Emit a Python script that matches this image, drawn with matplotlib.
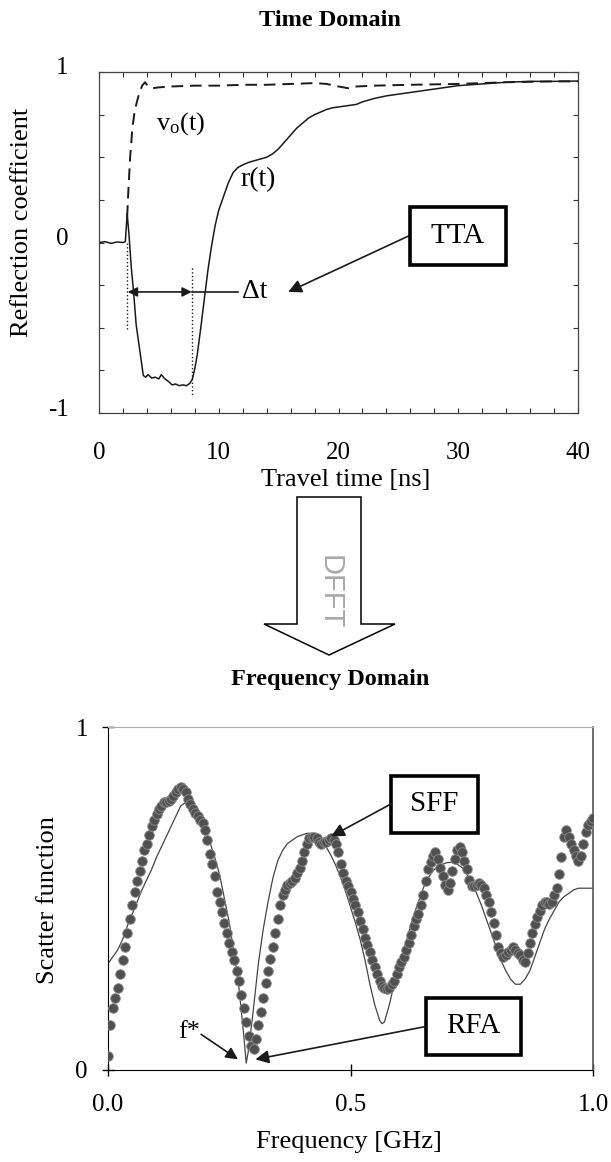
import numpy as np
import matplotlib
matplotlib.use("Agg")
import matplotlib.pyplot as plt
from matplotlib.patches import Rectangle, Polygon
from matplotlib.ticker import MultipleLocator
from matplotlib.transforms import ScaledTranslation

plt.rcParams['font.family'] = ['Liberation Serif', 'DejaVu Serif']
plt.rcParams['mathtext.fontset'] = 'custom'
plt.rcParams['mathtext.rm'] = 'Liberation Serif'
plt.rcParams['axes.unicode_minus'] = False

# time domain: reflected waveform r(t) and incident step v_o(t)
t_r = [0.0, 0.5, 1.0, 1.5, 2.0, 2.2, 2.35, 2.5, 2.7, 2.9, 3.1, 3.3, 3.5, 3.7, 3.9,
       4.1, 4.4, 4.7, 5.0, 5.2, 5.5, 5.8, 6.1, 6.4, 6.7, 7.0, 7.3, 7.6, 7.8, 8.0,
       8.2, 8.5, 8.8, 9.1, 9.4, 9.7, 10.0, 10.4, 10.8, 11.2, 11.6, 12.0, 12.5, 13.0,
       13.5, 14.0, 14.5, 15.0, 15.5, 16.0, 16.5, 17.0, 17.5, 18.0, 18.5, 19.0, 19.5,
       20.0, 20.5, 21.0, 21.5, 22.0, 23.0, 24.0, 25.0, 26.0, 27.0, 28.0, 29.0, 30.0,
       32.0, 34.0, 36.0, 38.0, 40.0]
r_vals = [0.0, 0.005, -0.005, 0.003, 0.0, 0.005, 0.17, 0.05, -0.15, -0.30, -0.48, -0.58,
          -0.68, -0.78, -0.79, -0.775, -0.795, -0.79, -0.80, -0.775, -0.80, -0.815, -0.835,
          -0.83, -0.84, -0.835, -0.84, -0.825, -0.80, -0.74, -0.66, -0.50, -0.33, -0.16,
          -0.02, 0.10, 0.19, 0.27, 0.35, 0.41, 0.44, 0.455, 0.47, 0.48, 0.49, 0.50, 0.52,
          0.55, 0.59, 0.63, 0.67, 0.70, 0.73, 0.75, 0.765, 0.78, 0.79, 0.795, 0.80, 0.805,
          0.81, 0.825, 0.845, 0.86, 0.87, 0.88, 0.89, 0.90, 0.91, 0.92, 0.93, 0.94, 0.945,
          0.945, 0.947]

t_v = [2.35, 2.45, 2.6, 2.8, 3.0, 3.3, 3.6, 3.85, 4.1, 4.5, 5.0, 6.0, 8.0, 10.0, 12.0,
       14.0, 16.0, 18.0, 19.0, 20.0, 20.8, 21.5, 23.0, 26.0, 30.0, 34.0, 38.0, 40.0]
v_vals = [0.15, 0.3, 0.5, 0.68, 0.78, 0.86, 0.92, 0.94, 0.915, 0.905, 0.91, 0.915, 0.92,
          0.92, 0.925, 0.925, 0.93, 0.935, 0.93, 0.915, 0.905, 0.915, 0.92, 0.925, 0.93,
          0.94, 0.945, 0.945]

# frequency domain: measured scatter function (dots) and fitted model (line)
freq = np.arange(201) * 0.005
scatter_s = [
    0.04, 0.13, 0.18, 0.21, 0.24, 0.28, 0.32, 0.36, 0.40, 0.44,
    0.48, 0.52, 0.55, 0.58, 0.61, 0.64, 0.66, 0.685, 0.71, 0.73,
    0.745, 0.76, 0.77, 0.78, 0.78, 0.785, 0.79, 0.80, 0.81, 0.82,
    0.825, 0.82, 0.81, 0.79, 0.775, 0.76, 0.75, 0.74, 0.73, 0.72,
    0.70, 0.67, 0.63, 0.60, 0.565, 0.52, 0.49, 0.46, 0.43, 0.40,
    0.37, 0.345, 0.32, 0.29, 0.26, 0.22, 0.18, 0.14, 0.10, 0.07,
    0.06, 0.09, 0.13, 0.17, 0.21, 0.255, 0.29, 0.325, 0.36, 0.40,
    0.44, 0.48, 0.51, 0.525, 0.54, 0.545, 0.55, 0.56, 0.575, 0.59,
    0.61, 0.635, 0.66, 0.675, 0.68, 0.68, 0.675, 0.665, 0.66, 0.665,
    0.665, 0.67, 0.675, 0.67, 0.66, 0.635, 0.60, 0.575, 0.55, 0.535,
    0.52, 0.50, 0.48, 0.46, 0.435, 0.41, 0.385, 0.365, 0.345, 0.32,
    0.30, 0.28, 0.26, 0.245, 0.24, 0.235, 0.24, 0.25, 0.26, 0.28,
    0.30, 0.315, 0.33, 0.35, 0.37, 0.395, 0.42, 0.44, 0.455, 0.48,
    0.51, 0.55, 0.585, 0.605, 0.625, 0.635, 0.615, 0.59, 0.565, 0.54,
    0.525, 0.545, 0.58, 0.615, 0.64, 0.65, 0.635, 0.61, 0.585, 0.555,
    0.535, 0.535, 0.54, 0.545, 0.54, 0.53, 0.51, 0.49, 0.46, 0.43,
    0.395, 0.36, 0.34, 0.33, 0.335, 0.345, 0.35, 0.36, 0.35, 0.34,
    0.335, 0.32, 0.315, 0.34, 0.37, 0.40, 0.425, 0.445, 0.465, 0.48,
    0.49, 0.49, 0.485, 0.49, 0.51, 0.53, 0.57, 0.62, 0.68, 0.70,
    0.68, 0.66, 0.64, 0.625, 0.61, 0.625, 0.66, 0.695, 0.715, 0.725,
    0.735]

model_f = [0.00, 0.01, 0.02, 0.03, 0.04, 0.05, 0.06, 0.07, 0.08, 0.09, 0.10, 0.11, 0.12,
           0.13, 0.14, 0.15, 0.16, 0.17, 0.18, 0.19, 0.20, 0.21, 0.22, 0.23, 0.24, 0.25,
           0.26, 0.27, 0.28, 0.285, 0.29, 0.30, 0.31, 0.32, 0.33, 0.34, 0.35, 0.36, 0.37,
           0.38, 0.39, 0.40, 0.41, 0.42, 0.43, 0.44, 0.45, 0.46, 0.47, 0.48, 0.49, 0.50,
           0.51, 0.52, 0.53, 0.54, 0.55, 0.56, 0.565, 0.57, 0.58, 0.59, 0.60, 0.61, 0.62,
           0.63, 0.64, 0.65, 0.66, 0.67, 0.68, 0.69, 0.70, 0.71, 0.72, 0.73, 0.74, 0.75,
           0.76, 0.77, 0.78, 0.79, 0.80, 0.81, 0.82, 0.83, 0.84, 0.85, 0.86, 0.87, 0.88,
           0.89, 0.90, 0.91, 0.92, 0.93, 0.94, 0.95, 0.96, 0.97, 0.98, 0.99, 1.00]
model_s = [0.31, 0.33, 0.35, 0.38, 0.42, 0.455, 0.49, 0.525, 0.555, 0.585, 0.62, 0.65, 0.68,
           0.71, 0.74, 0.77, 0.78, 0.775, 0.76, 0.735, 0.705, 0.665, 0.62, 0.57, 0.50, 0.43,
           0.34, 0.24, 0.10, 0.02, 0.06, 0.18, 0.31, 0.41, 0.49, 0.56, 0.61, 0.64, 0.66,
           0.67, 0.68, 0.685, 0.69, 0.69, 0.685, 0.67, 0.65, 0.625, 0.595, 0.56, 0.52, 0.475,
           0.43, 0.38, 0.32, 0.25, 0.19, 0.145, 0.135, 0.14, 0.19, 0.25, 0.30, 0.35, 0.40,
           0.45, 0.49, 0.53, 0.56, 0.58, 0.595, 0.60, 0.605, 0.605, 0.60, 0.59, 0.57, 0.545,
           0.515, 0.48, 0.44, 0.40, 0.36, 0.32, 0.29, 0.265, 0.25, 0.25, 0.265, 0.29, 0.33,
           0.37, 0.41, 0.44, 0.465, 0.49, 0.505, 0.515, 0.525, 0.53, 0.53, 0.53, 0.53]

W, H = 611, 1162
fig = plt.figure(figsize=(W / 100, H / 100), dpi=100)


def fx(px):
    return px / W


def fy(py):
    return 1 - py / H


ink = '#1a1a1a'

# ---- time domain ----
ax1 = fig.add_axes([fx(99), fy(413), fx(578) - fx(99), fy(72) - fy(413)])
ax1.plot(t_r, r_vals, color=ink, lw=1.1)
ax1.plot(t_v, v_vals, color=ink, lw=1.4, dashes=(6, 3.5))
ax1.set_xlim(0, 40)
ax1.set_ylim(-1, 1)
ax1.xaxis.set_major_locator(MultipleLocator(10))
ax1.xaxis.set_minor_locator(MultipleLocator(2))
ax1.set_yticks([-1, 0, 1])
ax1.yaxis.set_minor_locator(MultipleLocator(0.25))
ax1.tick_params(which='both', direction='in', top=True, right=True, length=3.5,
                width=0.8, color='#333333', labelsize=18)
ax1.tick_params(axis='x', pad=21)
ax1.tick_params(axis='y', pad=22)
for sp in ax1.spines.values():
    sp.set_color('#444444')
    sp.set_linewidth(0.9)
for tk in ax1.yaxis.get_major_ticks():
    tk.label1.set_transform(tk.label1.get_transform() +
                            ScaledTranslation(0, 0.06, fig.dpi_scale_trans))

# delta-t marker
ax1.plot([2.3, 2.3], [0.0, -0.52], ls=':', color=ink, lw=1.0)
ax1.plot([7.75, 7.75], [-0.15, -0.905], ls=':', color=ink, lw=1.0)
ax1.annotate('', xy=(2.4, -0.29), xytext=(7.75, -0.29),
             arrowprops=dict(arrowstyle='<|-|>', color=ink, lw=1.2,
                             mutation_scale=14, shrinkA=0, shrinkB=0))
ax1.plot([7.75, 11.6], [-0.29, -0.29], color=ink, lw=1.2)
ax1.text(13.0, -0.29, 'Δt', fontsize=20, ha='center', va='center')
ax1.text(13.3, 0.37, 'r(t)', fontsize=20, ha='center', va='center')
ax1.text(6.8, 0.70, r'$\mathrm{v_o(t)}$', fontsize=19, ha='center', va='center')

ax1.add_patch(Rectangle((26.0, -0.133), 7.95, 0.342, facecolor='white',
                        edgecolor='black', lw=2.6, zorder=4))
ax1.text(29.97, 0.04, 'TTA', fontsize=21, ha='center', va='center', zorder=5)
ax1.annotate('', xy=(15.8, -0.29), xytext=(26.0, 0.043),
             arrowprops=dict(arrowstyle='-|>', color=ink, lw=1.2,
                             mutation_scale=20, shrinkA=0, shrinkB=0))

fig.text(fx(330), fy(21), 'Time Domain', fontsize=17.5, fontweight='bold',
         ha='center', va='center')
fig.text(fx(22), fy(222), 'Reflection coefficient', fontsize=19, rotation=90,
         ha='center', va='center')
fig.text(fx(346), fy(480), 'Travel time [ns]', fontsize=19, ha='center', va='center')

# ---- transform arrow ----
arrow_px = [(297, 497), (361, 497), (361, 624), (395, 624), (329, 655),
            (264, 624), (297, 624)]
fig.patches.append(Polygon([(fx(x), fy(y)) for x, y in arrow_px], closed=True,
                           facecolor='white', edgecolor='black', lw=1.1,
                           transform=fig.transFigure))
fig.text(fx(330), fy(592), 'DFFT', family='Liberation Sans', fontsize=21,
         color='#a8a8a8', rotation=270, ha='center', va='center')

# ---- frequency domain ----
ax2 = fig.add_axes([fx(108), fy(1070), fx(593) - fx(108), fy(727) - fy(1070)])
ax2.plot(model_f, model_s, color='#454545', lw=0.9, zorder=2)
ax2.scatter(freq, scatter_s, s=48, c='#505050', edgecolors='#8c8c8c',
            linewidths=0.6, zorder=3)
ax2.set_xlim(0, 1)
ax2.set_ylim(0, 1)
ax2.set_xticks([0, 0.5, 1.0])
ax2.set_xticklabels(['0.0', '0.5', '1.0'])
ax2.set_yticks([0, 1])
ax2.set_yticklabels(['0', '1'])
ax2.tick_params(direction='inout', length=9, width=1.0, labelsize=18)
ax2.tick_params(axis='x', pad=13)
ax2.tick_params(axis='y', pad=10)
ax2.spines['top'].set_color('#b0b0b0')
ax2.spines['right'].set_color('#555555')
ax2.spines['right'].set_linewidth(1.2)

ax2.add_patch(Rectangle((0.584, 0.692), 0.178, 0.166, facecolor='white',
                        edgecolor='black', lw=2.6, zorder=4))
ax2.text(0.673, 0.776, 'SFF', fontsize=21, ha='center', va='center', zorder=5)
ax2.annotate('', xy=(0.46, 0.681), xytext=(0.584, 0.776),
             arrowprops=dict(arrowstyle='-|>', color=ink, lw=1.2,
                             mutation_scale=20, shrinkA=0, shrinkB=0), zorder=5)

ax2.add_patch(Rectangle((0.656, 0.043), 0.196, 0.167, facecolor='white',
                        edgecolor='black', lw=2.6, zorder=4))
ax2.text(0.754, 0.128, 'RFA', fontsize=21, ha='center', va='center', zorder=5)
ax2.annotate('', xy=(0.304, 0.031), xytext=(0.656, 0.127),
             arrowprops=dict(arrowstyle='-|>', color=ink, lw=1.2,
                             mutation_scale=20, shrinkA=0, shrinkB=0), zorder=5)

ax2.text(0.168, 0.112, 'f*', fontsize=19, ha='center', va='center', zorder=5)
ax2.annotate('', xy=(0.268, 0.031), xytext=(0.192, 0.104),
             arrowprops=dict(arrowstyle='-|>', color=ink, lw=1.2,
                             mutation_scale=18, shrinkA=0, shrinkB=0), zorder=5)

fig.text(fx(330), fy(680), 'Frequency Domain', fontsize=17.5, fontweight='bold',
         ha='center', va='center')
fig.text(fx(48), fy(900), 'Scatter function', fontsize=19, rotation=90,
         ha='center', va='center')
fig.text(fx(349), fy(1142), 'Frequency [GHz]', fontsize=19, ha='center', va='center')

fig.savefig('out.png', dpi=100)
